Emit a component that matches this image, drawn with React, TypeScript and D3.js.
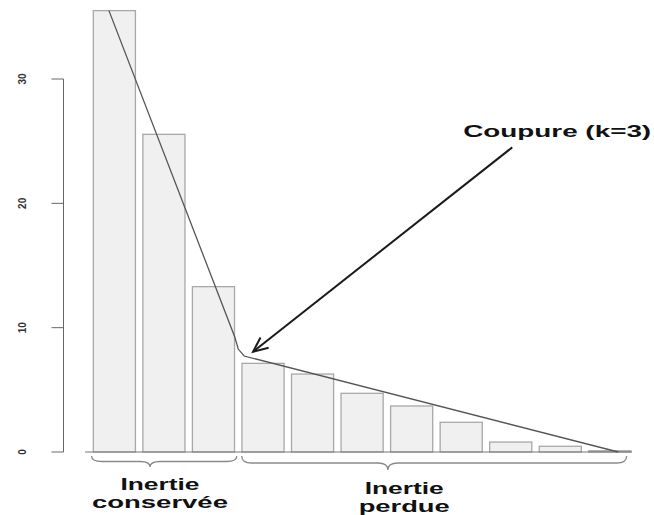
import React, { useEffect, useRef } from "react";
import * as d3 from "d3";

// eigenvalue bars (inertia per axis)
const axes = ["1", "2", "3", "4", "5", "6", "7", "8", "9", "10", "11"];
const inertia = [35.5, 25.55, 13.3, 7.13, 6.27, 4.72, 3.7, 2.39, 0.8, 0.46, 0.1];
const yTicks = [0, 10, 20, 30];

// scree curve over the bars: position in bar units, value
const screePos = [-0.11, 2.43, 2.5, 2.62, 10.17];
const screeVal = [35.5, 9.25, 8.28, 7.72, 0];

// arrow + label
const cutLabel = "Coupure (k=3)";
const arrowFrom = [8.03, 24.5];
const arrowTo = [2.8, 8.07];
const cutLabelAt = [7.04, 25.3];

// braces under the bars
const groupLines = [
  ["Inertie", "conservée"],
  ["Inertie", "perdue"],
];
const braceStart = [-0.46, 2.57];
const braceEnd = [2.47, 10.34];
const braceTip = [0.72, 5.52];
const groupLabelAt = [0.92, 5.85];

const FONT = "'Liberation Sans', Arial, Helvetica, sans-serif";

export default function App() {
  const ref = useRef<SVGSVGElement>(null);

  useEffect(() => {
    const svg = d3.select(ref.current);
    svg.selectAll("*").remove();

    const x = d3
      .scaleBand()
      .domain(axes)
      .range([89.6, 634.6])
      .paddingInner(0.15)
      .paddingOuter(0.075);
    const bw = x.bandwidth();
    const pos = d3
      .scaleLinear()
      .domain([0, axes.length - 1])
      .range([x(axes[0])! + bw / 2, x(axes[axes.length - 1])! + bw / 2]);
    const y = d3.scaleLinear().domain([0, 30]).range([452, 79]);

    // y axis
    const yAxis = svg.append("g").attr("transform", "translate(63.5,0)");
    yAxis
      .append("line")
      .attr("y1", y(0))
      .attr("y2", y(30))
      .attr("stroke", "#666")
      .attr("stroke-width", 1);
    yTicks.forEach((t) => {
      yAxis
        .append("line")
        .attr("x1", -12)
        .attr("x2", 0)
        .attr("y1", y(t))
        .attr("y2", y(t))
        .attr("stroke", "#666");
      yAxis
        .append("text")
        .attr("transform", `translate(-38,${y(t)}) rotate(-90)`)
        .attr("text-anchor", "middle")
        .attr("font-family", FONT)
        .attr("font-weight", "bold")
        .attr("font-size", 10)
        .attr("fill", "#333")
        .text(t);
    });

    // bars
    svg
      .append("g")
      .selectAll("rect")
      .data(inertia)
      .enter()
      .append("rect")
      .attr("x", (d, i) => x(axes[i])!)
      .attr("width", bw)
      .attr("y", (d) => y(d))
      .attr("height", (d) => y(0) - y(d))
      .attr("fill", "#f0f0f0")
      .attr("stroke", "#a8a8a8")
      .attr("stroke-width", 1.3);

    // baseline
    svg
      .append("line")
      .attr("x1", 85)
      .attr("x2", 632)
      .attr("y1", y(0))
      .attr("y2", y(0))
      .attr("stroke", "#777")
      .attr("stroke-width", 1);

    // scree curve
    const line = d3
      .line<number>()
      .x((d, i) => pos(screePos[i]))
      .y((d) => y(d));
    svg
      .append("path")
      .datum(screeVal)
      .attr("d", line)
      .attr("fill", "none")
      .attr("stroke", "#555")
      .attr("stroke-width", 1.3);

    // arrow
    const x0 = pos(arrowFrom[0]),
      y0 = y(arrowFrom[1]),
      x1 = pos(arrowTo[0]),
      y1 = y(arrowTo[1]);
    const ang = Math.atan2(y0 - y1, x0 - x1);
    const headLen = 16,
      spread = 0.42;
    svg
      .append("line")
      .attr("x1", x0)
      .attr("y1", y0)
      .attr("x2", x1)
      .attr("y2", y1)
      .attr("stroke", "#1a1a1a")
      .attr("stroke-width", 2);
    svg
      .append("path")
      .attr(
        "d",
        `M${x1 + headLen * Math.cos(ang + spread)},${y1 + headLen * Math.sin(ang + spread)}` +
          `L${x1},${y1}` +
          `L${x1 + headLen * Math.cos(ang - spread)},${y1 + headLen * Math.sin(ang - spread)}`
      )
      .attr("fill", "none")
      .attr("stroke", "#1a1a1a")
      .attr("stroke-width", 2);
    svg
      .append("text")
      .attr("x", pos(cutLabelAt[0]))
      .attr("y", y(cutLabelAt[1]))
      .attr("font-family", FONT)
      .attr("font-weight", "bold")
      .attr("font-size", 17)
      .attr("textLength", 188)
      .attr("lengthAdjust", "spacingAndGlyphs")
      .attr("fill", "#111")
      .text(cutLabel);

    // braces
    const brace = (a: number, b: number, t: number, top: number, h: number) => {
      const m = top + h / 2,
        q = 10;
      return (
        `M${a},${top} Q${a},${m} ${a + q},${m} L${t - q},${m} ` +
        `Q${t},${m} ${t},${top + h} Q${t},${m} ${t + q},${m} ` +
        `L${b - q},${m} Q${b},${m} ${b},${top}`
      );
    };
    groupLines.forEach((lines, g) => {
      svg
        .append("path")
        .attr(
          "d",
          brace(pos(braceStart[g]), pos(braceEnd[g]), pos(braceTip[g]), 456, g === 0 ? 11 : 14)
        )
        .attr("fill", "none")
        .attr("stroke", "#8a8a8a")
        .attr("stroke-width", 1.3);
      const widths = g === 0 ? [79, 136] : [79, 91];
      const base = g === 0 ? [490, 508] : [494, 511.5];
      lines.forEach((s, k) => {
        svg
          .append("text")
          .attr("x", pos(groupLabelAt[g]))
          .attr("y", base[k])
          .attr("text-anchor", "middle")
          .attr("font-family", FONT)
          .attr("font-weight", "bold")
          .attr("font-size", 16)
          .attr("textLength", widths[k])
          .attr("lengthAdjust", "spacingAndGlyphs")
          .attr("fill", "#111")
          .text(s);
      });
    });
  }, []);

  return (
    <svg
      ref={ref}
      width={654}
      height={515}
      style={{ position: "absolute", left: 0, top: 0, background: "#fff" }}
    />
  );
}
